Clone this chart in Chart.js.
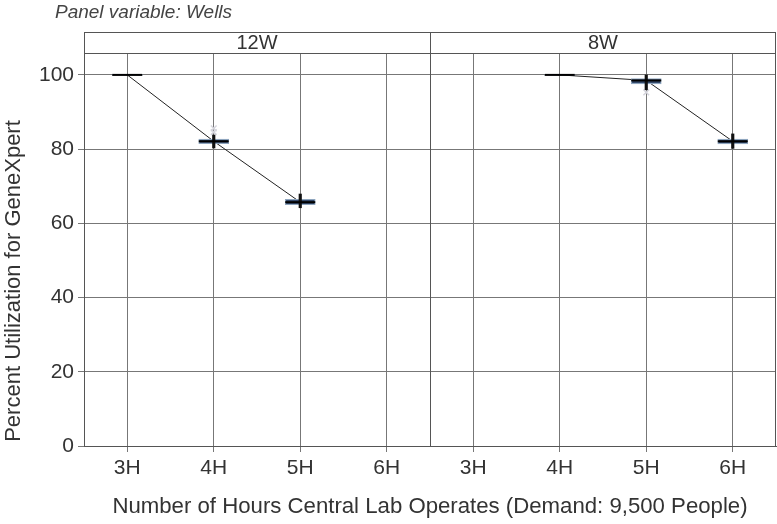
<!DOCTYPE html>
<html lang="en">
<head>
<meta charset="UTF-8">
<title>GeneXpert Utilization</title>
<script src="https://cdn.jsdelivr.net/npm/chart.js"></script>
<style>
  body { margin: 0; background: #fff; }
  #wrap { width: 777px; height: 524px; }
</style>
</head>
<body>
<div id="wrap"><canvas id="utilChart" width="777" height="524"></canvas></div>
<script>
// categories: two panels (12W, 8W), four hour settings each
var panels = ['12W', '8W'];
var hours = ['3H', '4H', '5H', '6H'];
var labels = hours.concat(hours);

// box stats per category (null = no data)
var medians   = [100,   82.1,  65.7,  null, null, 100,   98.5,  82.1];
var boxLow    = [99.85, 81.5,  65.0,  null, null, 99.85, 97.6,  81.4];
var boxHigh   = [100.15,82.7,  66.5,  null, null, 100.15,99.0,  82.7];
var whiskLow  = [100,   80.3,  64.2,  null, null, 100,   96.0,  80.2];
var whiskHigh = [100,   83.8,  67.9,  null, null, 100,   100,   84.1];
var outliersA = [null,  84.6,  null,  null, null, null,  95.3,  null];
var outliersB = [null,  85.6,  null,  null, null, null,  null,  null];

var yTicks = [0, 20, 40, 60, 80, 100];
var yMax = 105.9;

function pairs(lo, hi) {
    return lo.map(function (v, i) { return v === null ? null : [v, hi[i]]; });
}

var fontFam = '"Liberation Sans Narrow", "Liberation Sans", Arial, sans-serif';

// header strip, titles, right/top frame and panel divider
var panelPlugin = {
    id: 'panelPlugin',
    afterDraw: function (chart) {
        var ctx = chart.ctx, a = chart.chartArea;
        var stripTop = a.top - 21;
        var mid = (a.left + a.right) / 2;
        ctx.save();
        ctx.strokeStyle = '#555';
        ctx.lineWidth = 1;
        ctx.strokeRect(a.left + 0.5, stripTop + 0.5, a.right - a.left - 1, a.bottom - stripTop);
        ctx.beginPath();
        ctx.moveTo(a.left, a.top + 0.5); ctx.lineTo(a.right, a.top + 0.5);
        ctx.moveTo(Math.round(mid) + 0.5, stripTop); ctx.lineTo(Math.round(mid) + 0.5, a.bottom);
        ctx.stroke();
        ctx.fillStyle = '#333';
        ctx.font = '20px ' + fontFam;
        ctx.textAlign = 'center';
        ctx.textBaseline = 'middle';
        ctx.fillText(panels[0], (a.left + mid) / 2, stripTop + 11);
        ctx.fillText(panels[1], (mid + a.right) / 2, stripTop + 11);
        // y axis title
        ctx.save();
        ctx.translate(14, 281);
        ctx.rotate(-Math.PI / 2);
        ctx.font = '22px ' + fontFam;
        ctx.fillText('Percent Utilization for GeneXpert', 0, 0);
        ctx.restore();
        ctx.fillStyle = '#444';
        ctx.font = 'italic 19px ' + fontFam;
        ctx.textAlign = 'left';
        ctx.fillText('Panel variable: Wells', 55, 13);
        ctx.restore();
    }
};

var ctx = document.getElementById('utilChart').getContext('2d');
var chart = new Chart(ctx, {
    data: {
        labels: labels,
        datasets: [
            {
                type: 'line', label: 'trend', data: medians, order: 6,
                borderColor: '#222', borderWidth: 1, pointRadius: 0, spanGaps: false
            },
            {
                type: 'line', label: 'outA', data: outliersA, order: 5, showLine: false,
                pointStyle: 'crossRot', pointRadius: 4, borderColor: '#d4d4dc', pointBorderWidth: 1.5
            },
            {
                type: 'line', label: 'outB', data: outliersB, order: 5, showLine: false,
                pointStyle: 'crossRot', pointRadius: 4, borderColor: '#d4d4dc', pointBorderWidth: 1.5
            },
            {
                type: 'bar', label: 'box', data: pairs(boxLow, boxHigh), order: 4, grouped: false,
                barThickness: 30, backgroundColor: '#34496a', borderColor: '#8ea5be',
                borderWidth: 1.2, borderSkipped: false
            },
            {
                type: 'bar', label: 'whisker', data: pairs(whiskLow, whiskHigh), order: 3, grouped: false,
                barThickness: 2.5, backgroundColor: '#111', borderWidth: 0
            },
            {
                type: 'line', label: 'median', data: medians, order: 2, showLine: false,
                pointStyle: 'line', pointRadius: 15, borderColor: '#000', pointBorderWidth: 2
            }
        ]
    },
    options: {
        responsive: false,
        animation: false,
        layout: { autoPadding: false, padding: { top: 53, right: 1, left: 0, bottom: 0 } },
        plugins: { legend: { display: false }, tooltip: { enabled: false }, title: { display: false } },
        scales: {
            x: {
                type: 'category',
                offset: true,
                grid: { offset: false, color: '#777', lineWidth: 1, tickLength: 6 },
                border: { color: '#555' },
                ticks: { color: '#333', font: { family: fontFam, size: 21 }, padding: 4 },
                title: {
                    display: true, text: 'Number of Hours Central Lab Operates (Demand: 9,500 People)',
                    color: '#333', font: { family: fontFam, size: 22.2 }, padding: { top: 15 }
                },
                afterFit: function (s) { s.height = 78; s.paddingLeft = 0; s.paddingRight = 0; }
            },
            y: {
                min: 0, max: yMax,
                grid: { color: '#777', lineWidth: 1, tickLength: 6 },
                border: { color: '#555' },
                afterBuildTicks: function (s) { s.ticks = yTicks.map(function (v) { return { value: v }; }); },
                ticks: { color: '#333', font: { family: fontFam, size: 21 }, padding: 4 },
                title: { display: false },
                afterFit: function (s) { s.width = 84; }
            }
        }
    },
    plugins: [panelPlugin]
});
</script>
</body>
</html>
